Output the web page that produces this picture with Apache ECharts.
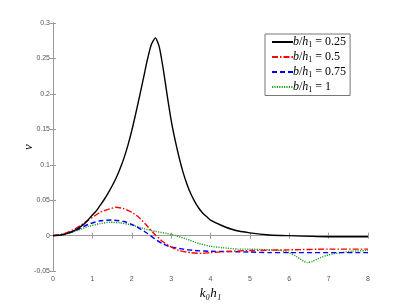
<!DOCTYPE html>
<html><head><meta charset="utf-8">
<script src="https://cdn.jsdelivr.net/npm/echarts@6/dist/echarts.min.js"></script>
<style>html,body{margin:0;padding:0;background:#fff}#c{width:407px;height:305px}</style>
</head><body><div id="c"></div>
<script>
// b/h1 = 0.25
const x1 = [0,0.2,0.4,0.6,0.8,0.9,1.0,1.1,1.2,1.3,1.4,1.5,1.6,1.7,1.8,1.9,2.0,2.1,2.2,2.3,2.4,2.5,2.6,2.7,2.8,2.9,3.0,3.1,3.2,3.3,3.4,3.5,3.6,3.7,3.8,3.9,4.0,4.3,4.6,5.0,5.5,6.0,7.0,8.0];
const y1 = [0,0.001,0.004,0.009,0.017,0.023,0.029,0.035,0.043,0.051,0.060,0.070,0.081,0.094,0.109,0.127,0.148,0.172,0.197,0.223,0.249,0.270,0.279,0.266,0.235,0.198,0.163,0.135,0.111,0.090,0.073,0.059,0.048,0.039,0.032,0.027,0.022,0.014,0.008,0.004,0.001,0.000,-0.0015,-0.0015];
// b/h1 = 0.5
const x2 = [0,0.3,0.6,0.9,1.2,1.4,1.6,1.8,2.0,2.2,2.4,2.6,2.8,3.0,3.2,3.5,3.8,4.0,4.5,5.0,6.0,7.0,8.0];
const y2 = [0,0.003,0.011,0.022,0.033,0.037,0.040,0.038,0.033,0.025,0.013,0.001,-0.009,-0.016,-0.021,-0.024,-0.025,-0.024,-0.022,-0.021,-0.020,-0.019,-0.019];
// b/h1 = 0.75
const x3 = [0,0.3,0.6,0.9,1.2,1.5,1.8,2.0,2.2,2.4,2.6,2.8,3.0,3.3,3.6,4.0,5.0,5.5,6.0,8.0];
const y3 = [0,0.002,0.008,0.016,0.021,0.022,0.020,0.016,0.010,0.003,-0.005,-0.012,-0.016,-0.019,-0.021,-0.022,-0.023,-0.024,-0.024,-0.024];
// b/h1 = 1
const x4 = [0,0.3,0.6,0.9,1.2,1.45,1.7,2.0,2.3,2.6,2.9,3.1,3.4,3.7,4.0,4.3,4.7,5.0,5.5,5.8,6.0,6.2,6.45,6.6,6.8,7.0,7.3,7.6,8.0];
const y4 = [0,0.002,0.007,0.013,0.017,0.019,0.018,0.015,0.010,0.006,0.003,0.0005,-0.005,-0.011,-0.015,-0.017,-0.019,-0.019,-0.020,-0.021,-0.024,-0.030,-0.038,-0.036,-0.031,-0.027,-0.024,-0.022,-0.021];
const labels = ['0.25','0.5','0.75','1'];
const xTicks = {min:0, max:8, interval:1};
const yTicks = {min:-0.05, max:0.3, interval:0.05};

const pair = (xs, ys) => xs.map((v,i)=>[v, ys[i]]);
const names = labels.map(l => 'b/h1 = ' + l);
const styles = [
  {color:'#000000', type:'solid'},
  {color:'#ff0000', type:[6,2,1.5,2]},
  {color:'#0000ff', type:[5,3]},
  {color:'#22a022', type:[1.2,1.2]}
];
const datas = [pair(x1,y1), pair(x2,y2), pair(x3,y3), pair(x4,y4)];
const axisGray = '#9a9a9a';
const chart = echarts.init(document.getElementById('c'));
chart.setOption({
  animation:false,
  grid:{left:53, right:39, top:23, bottom:33},
  legend:{
    orient:'vertical', left:265, top:34,
    backgroundColor:'#fff', borderColor:'#777', borderWidth:1, borderRadius:0,
    padding:[2,4,2,6], itemGap:2.5, itemWidth:21, itemHeight:10,
    data: names,
    itemStyle:{opacity:0},
    formatter: function(n){ const v = n.split('= ')[1]; return '{i|b}/{i|h}{s|1} = ' + v; },
    textStyle:{ fontFamily:'Liberation Serif', fontSize:12, color:'#000', padding:[0,0,0,-5],
      rich:{ i:{fontFamily:'Liberation Serif', fontStyle:'italic', fontSize:12},
             s:{fontFamily:'Liberation Serif', fontSize:8, padding:[5,0,0,0]} } }
  },
  xAxis:[{
    type:'value', min:xTicks.min, max:xTicks.max, interval:xTicks.interval,
    name:'k₀h₁', nameLocation:'middle', nameGap:15,
    nameTextStyle:{fontFamily:'Liberation Serif', fontStyle:'italic', fontSize:13, color:'#000'},
    axisLine:{show:true, lineStyle:{color:axisGray}},
    axisTick:{inside:true, length:3, lineStyle:{color:axisGray}},
    axisLabel:{fontSize:7, color:'#555', margin:4, fontFamily:'Liberation Sans'},
    splitLine:{show:false}
  },{
    type:'value', position:'top', min:xTicks.min, max:xTicks.max, interval:xTicks.interval,
    axisLine:{show:true, lineStyle:{color:axisGray}},
    axisTick:{inside:true, length:3, lineStyle:{color:axisGray}},
    axisLabel:{show:false}, splitLine:{show:false}
  }],
  yAxis:[{
    type:'value', min:yTicks.min, max:yTicks.max, interval:yTicks.interval,
    name:'ν', nameLocation:'middle', nameGap:18, nameRotate:90, nameMoveOverlap:false,
    nameTextStyle:{fontFamily:'Liberation Serif', fontStyle:'italic', fontSize:13, color:'#000'},
    axisLine:{show:true, lineStyle:{color:axisGray}},
    axisTick:{inside:true, length:3, lineStyle:{color:axisGray}},
    axisLabel:{fontSize:7, color:'#555', margin:3, fontFamily:'Liberation Sans'},
    splitLine:{show:false}
  },{
    type:'value', position:'right', min:yTicks.min, max:yTicks.max, interval:yTicks.interval,
    axisLine:{show:true, lineStyle:{color:axisGray}},
    axisTick:{inside:true, length:3, lineStyle:{color:axisGray}},
    axisLabel:{show:false}, splitLine:{show:false}
  }],
  series: datas.map((d,i)=>({
    name:names[i], type:'line', data:d, smooth:0.2, symbol:'none', showSymbol:false,
    xAxisIndex:0, yAxisIndex:0, z: 10-i,
    lineStyle:{color:styles[i].color, type:styles[i].type, width:1.4},
    itemStyle:{color:styles[i].color}
  }))
});
</script></body></html>
